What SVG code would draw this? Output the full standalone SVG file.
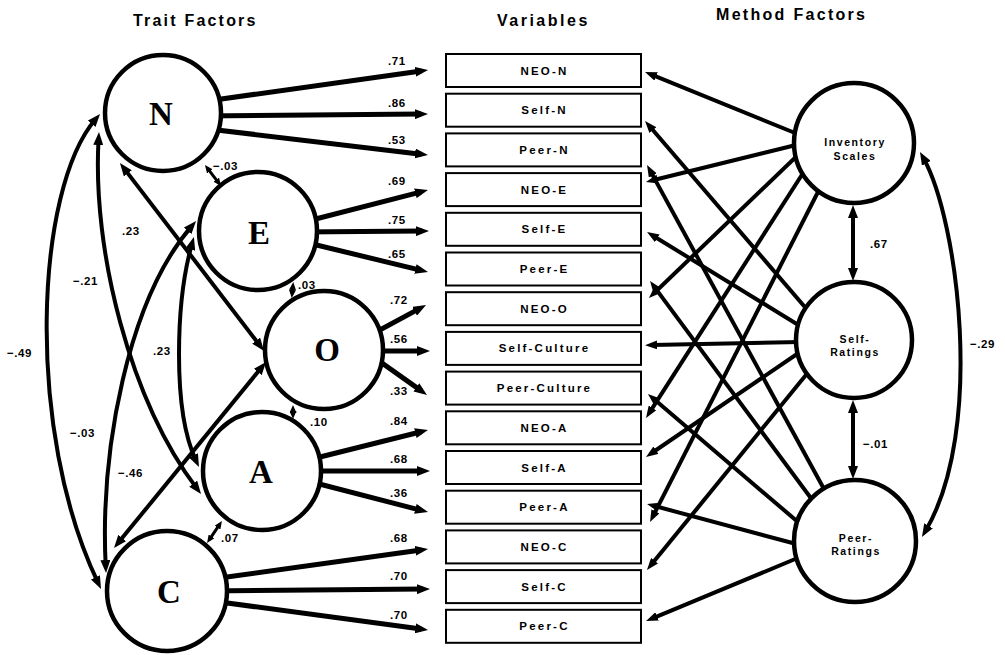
<svg xmlns="http://www.w3.org/2000/svg" width="1005" height="655" viewBox="0 0 1005 655">
<style>
.title{font-family:"Liberation Sans",Arial,sans-serif;font-weight:bold;font-size:16px;fill:#000}
.lbl{font-family:"Liberation Sans",Arial,sans-serif;font-weight:bold;font-size:11.5px;fill:#000;letter-spacing:0.6px}
.box rect{fill:#fff;stroke:#000;stroke-width:2}
.box text{font-family:"Liberation Sans",Arial,sans-serif;font-weight:bold;font-size:11.5px;letter-spacing:2.2px;text-anchor:middle;fill:#000}
.trait circle{fill:#fff;stroke:#000;stroke-width:4.5}
.trait text{font-family:"Liberation Serif","Times New Roman",serif;font-weight:bold;font-size:33px;text-anchor:middle;fill:#000}
.method circle{fill:#fff;stroke:#000;stroke-width:4.5}
.method text{font-family:"Liberation Sans",Arial,sans-serif;font-weight:bold;font-size:10.5px;letter-spacing:1.6px;text-anchor:middle;fill:#000}
.load{stroke:#000;stroke-width:5;fill:none;marker-end:url(#ah)}
.meth{stroke:#000;stroke-width:4;fill:none;marker-end:url(#am)}
.cor{stroke:#000;stroke-width:4;fill:none;marker-start:url(#ah);marker-end:url(#ah)}
.sc{stroke:#000;stroke-width:3;fill:none;marker-start:url(#as);marker-end:url(#as)}
</style>
<defs>
<marker id="ah" viewBox="0 0 13 10" refX="6" refY="5" markerWidth="13" markerHeight="10" markerUnits="userSpaceOnUse" orient="auto-start-reverse"><path d="M0,0 L13,5 L0,10 z" fill="#000"/></marker>
<marker id="am" viewBox="0 0 12 9" refX="5" refY="4.5" markerWidth="12" markerHeight="9" markerUnits="userSpaceOnUse" orient="auto-start-reverse"><path d="M0,0 L12,4.5 L0,9 z" fill="#000"/></marker>
<marker id="as" viewBox="0 0 8 7" refX="4" refY="3.5" markerWidth="8" markerHeight="7" markerUnits="userSpaceOnUse" orient="auto-start-reverse"><path d="M0,0 L8,3.5 L0,7 z" fill="#000"/></marker>
</defs>
<rect x="0" y="0" width="1005" height="655" fill="#fff"/>

<g id="titles">
<text class="title" x="133" y="26" letter-spacing="2.2">Trait Factors</text>
<text class="title" x="497" y="26" letter-spacing="2.5">Variables</text>
<text class="title" x="716" y="20" letter-spacing="2.3">Method Factors</text>
</g>

<g id="connectors">
<!-- trait loadings -->
<line class="load" x1="200" y1="102" x2="421.1" y2="71"/>
<line class="load" x1="200" y1="116" x2="421" y2="114.1"/>
<line class="load" x1="200" y1="128" x2="421" y2="154.2"/>
<line class="load" x1="300" y1="223" x2="421.2" y2="191.8"/>
<line class="load" x1="300" y1="232" x2="422" y2="231.1"/>
<line class="load" x1="300" y1="241" x2="421.2" y2="270.4"/>
<line class="load" x1="365" y1="338" x2="419.9" y2="308.4"/>
<line class="load" x1="365" y1="351" x2="423" y2="351"/>
<line class="load" x1="365" y1="351" x2="421.3" y2="390.9"/>
<line class="load" x1="300" y1="462" x2="421.2" y2="431.7"/>
<line class="load" x1="300" y1="471" x2="423" y2="471"/>
<line class="load" x1="300" y1="479" x2="421.2" y2="510.3"/>
<line class="load" x1="205" y1="580" x2="421.1" y2="550"/>
<line class="load" x1="205" y1="591" x2="423" y2="589.1"/>
<line class="load" x1="205" y1="600" x2="421.1" y2="629.1"/>
<!-- method loadings -->
<line class="meth" x1="800" y1="135" x2="651.5" y2="74.6"/>
<line class="meth" x1="810" y1="313" x2="649.6" y2="126.3"/>
<line class="meth" x1="830" y1="500" x2="650.4" y2="171.1"/>
<line class="meth" x1="800" y1="144" x2="652.8" y2="180.3"/>
<line class="meth" x1="800" y1="326" x2="653" y2="235.7"/>
<line class="meth" x1="816" y1="505" x2="654.2" y2="286.6"/>
<line class="meth" x1="800" y1="153" x2="654" y2="293.2"/>
<line class="meth" x1="800" y1="342" x2="652" y2="345"/>
<line class="meth" x1="805" y1="528" x2="653.3" y2="398.6"/>
<line class="meth" x1="805" y1="170" x2="649.8" y2="412.1"/>
<line class="meth" x1="800" y1="352" x2="651.8" y2="453"/>
<line class="meth" x1="800" y1="545" x2="653.8" y2="505.8"/>
<line class="meth" x1="820" y1="188" x2="653.2" y2="515.8"/>
<line class="meth" x1="810" y1="370" x2="651.4" y2="564.6"/>
<line class="meth" x1="800" y1="557" x2="652.5" y2="618.3"/>
<!-- trait correlations -->
<path class="sc" d="M207.4,168.2 L218.6,182.8"/>
<path class="sc" d="M292.9,286 L292.1,294"/>
<path class="sc" d="M293,409 L293,415"/>
<path class="sc" d="M219.7,524.3 L209.3,539.7"/>
<path class="cor" d="M95.5,119.3 C35,190 25,430 98,582.7"/>
<path class="cor" d="M98.6,139 C92,250 130,400 196.8,488.4"/>
<path class="cor" d="M191.5,226.4 C128,300 100,450 105.7,566"/>
<path class="cor" d="M192,243.7 C176,300 172,410 196,460.7"/>
<path class="cor" d="M124.2,168.6 L259.8,345.4"/>
<path class="cor" d="M261.6,367.4 L118.4,542.6"/>
<!-- method correlations -->
<path class="cor" stroke-width="5" d="M853,212 L853,274"/>
<path class="cor" stroke-width="5" d="M853,407 L853,472"/>
<path class="cor" d="M923.4,158.1 C958,220 985,430 925.5,531"/>
</g>

<g id="labels">
<text class="lbl" x="388" y="65">.71</text>
<text class="lbl" x="388" y="107">.86</text>
<text class="lbl" x="388" y="144">.53</text>
<text class="lbl" x="388" y="185">.69</text>
<text class="lbl" x="388" y="224">.75</text>
<text class="lbl" x="388" y="258">.65</text>
<text class="lbl" x="390" y="304">.72</text>
<text class="lbl" x="390" y="343">.56</text>
<text class="lbl" x="390" y="395">.33</text>
<text class="lbl" x="390" y="425">.84</text>
<text class="lbl" x="390" y="463">.68</text>
<text class="lbl" x="390" y="497">.36</text>
<text class="lbl" x="390" y="542">.68</text>
<text class="lbl" x="390" y="580">.70</text>
<text class="lbl" x="390" y="619">.70</text>
<text class="lbl" x="213" y="170">−.03</text>
<text class="lbl" x="298" y="289">.03</text>
<text class="lbl" x="310" y="426">.10</text>
<text class="lbl" x="221" y="542">.07</text>
<text class="lbl" x="122" y="235">.23</text>
<text class="lbl" x="73" y="285">−.21</text>
<text class="lbl" x="7" y="357">−.49</text>
<text class="lbl" x="153" y="355">.23</text>
<text class="lbl" x="70" y="437">−.03</text>
<text class="lbl" x="118" y="477">−.46</text>
<text class="lbl" x="870" y="248">.67</text>
<text class="lbl" x="863" y="448">−.01</text>
<text class="lbl" x="970" y="348">−.29</text>
</g>

<g id="variables">
<g id="v-neo-n" class="box"><rect x="446" y="54" width="195" height="33"/><text x="544.5" y="74.5">NEO-N</text></g>
<g id="v-self-n" class="box"><rect x="446" y="93.7" width="195" height="33"/><text x="544.5" y="114.2">Self-N</text></g>
<g id="v-peer-n" class="box"><rect x="446" y="133.4" width="195" height="33"/><text x="544.5" y="153.9">Peer-N</text></g>
<g id="v-neo-e" class="box"><rect x="446" y="173.1" width="195" height="33"/><text x="544.5" y="193.6">NEO-E</text></g>
<g id="v-self-e" class="box"><rect x="446" y="212.8" width="195" height="33"/><text x="544.5" y="233.3">Self-E</text></g>
<g id="v-peer-e" class="box"><rect x="446" y="252.5" width="195" height="33"/><text x="544.5" y="273">Peer-E</text></g>
<g id="v-neo-o" class="box"><rect x="446" y="292.2" width="195" height="33"/><text x="544.5" y="312.7">NEO-O</text></g>
<g id="v-self-culture" class="box"><rect x="446" y="331.9" width="195" height="33"/><text x="544.5" y="352.4">Self-Culture</text></g>
<g id="v-peer-culture" class="box"><rect x="446" y="371.6" width="195" height="33"/><text x="544.5" y="392.1">Peer-Culture</text></g>
<g id="v-neo-a" class="box"><rect x="446" y="411.3" width="195" height="33"/><text x="544.5" y="431.8">NEO-A</text></g>
<g id="v-self-a" class="box"><rect x="446" y="451" width="195" height="33"/><text x="544.5" y="471.5">Self-A</text></g>
<g id="v-peer-a" class="box"><rect x="446" y="490.7" width="195" height="33"/><text x="544.5" y="511.2">Peer-A</text></g>
<g id="v-neo-c" class="box"><rect x="446" y="530.4" width="195" height="33"/><text x="544.5" y="550.9">NEO-C</text></g>
<g id="v-self-c" class="box"><rect x="446" y="570.1" width="195" height="33"/><text x="544.5" y="590.6">Self-C</text></g>
<g id="v-peer-c" class="box"><rect x="446" y="609.8" width="195" height="33"/><text x="544.5" y="630.3">Peer-C</text></g>
</g>

<g id="trait-N" class="trait"><circle cx="163" cy="113" r="58"/><text x="161" y="125">N</text></g>
<g id="trait-E" class="trait"><circle cx="258" cy="231" r="59"/><text x="259" y="244">E</text></g>
<g id="trait-O" class="trait"><circle cx="324" cy="350" r="59"/><text x="327" y="361">O</text></g>
<g id="trait-A" class="trait"><circle cx="262" cy="471" r="59"/><text x="261" y="483">A</text></g>
<g id="trait-C" class="trait"><circle cx="167" cy="591" r="60"/><text x="169" y="603">C</text></g>

<g id="method-inventory" class="method"><circle cx="854" cy="143" r="60"/><text x="855" y="146">Inventory</text><text x="855" y="160">Scales</text></g>
<g id="method-self" class="method"><circle cx="854" cy="340" r="58"/><text x="855" y="343">Self-</text><text x="855" y="356">Ratings</text></g>
<g id="method-peer" class="method"><circle cx="855" cy="541" r="61"/><text x="856" y="542">Peer-</text><text x="856" y="555">Ratings</text></g>
</svg>
